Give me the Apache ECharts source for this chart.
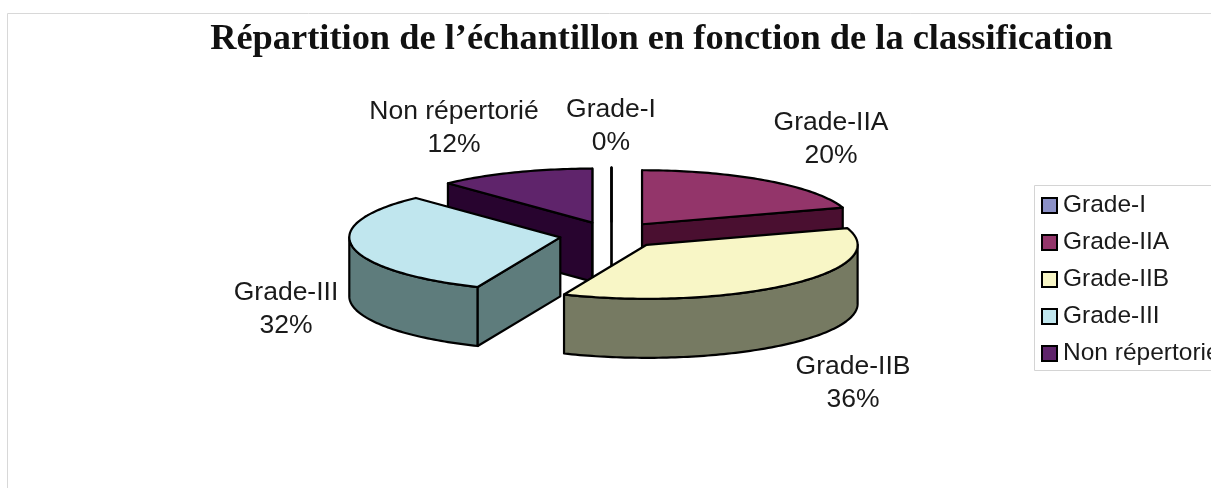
<!DOCTYPE html>
<html>
<head>
<meta charset="utf-8">
<style>html,body{margin:0;padding:0;background:#fff}#c{width:1211px;height:488px}</style>
<script src="https://cdn.jsdelivr.net/npm/echarts@6/dist/echarts.min.js"></script>
</head>
<body>
<div id="c"></div>
<script>
const categories = ['Grade-I', 'Grade-IIA', 'Grade-IIB', 'Grade-III', 'Non répertorié'];
const values = [0, 20, 36.4, 31.6, 12];
const topColors = ['#8b90c6', '#93356a', '#f8f6c6', '#c0e6ee', '#5f246b'];
const wallColors = ['#45486a', '#4a0f30', '#767a62', '#5e7c7c', '#28042f'];
const titleText = 'Répartition de l’échantillon en fonction de la classification';
const labelCenters = [[611, 126], [831, 139], [853, 383], [286, 309], [454, 128]];

const CX = 611.5, CY = 235, RX = 211, RY = 54, DEPTH = 59, EXPLODE = 52;
const FRONT_START = Math.PI / 2, FRONT_END = Math.PI * 3 / 2;
const total = values.reduce((a, b) => a + b, 0);

const slices = [];
let acc = 0;
values.forEach(v => {
  const a0 = acc / total * Math.PI * 2;
  acc += v;
  slices.push({ a0, a1: acc / total * Math.PI * 2 });
});

function apexOf(s) {
  const mid = (s.a0 + s.a1) / 2;
  return [CX + EXPLODE * Math.sin(mid), CY - EXPLODE * Math.cos(mid) * RY / RX];
}
function rim(apex, a, dy) {
  return [apex[0] + RX * Math.sin(a), apex[1] - RY * Math.cos(a) + (dy || 0)];
}
function arcPoints(apex, a0, a1, dy) {
  const n = Math.max(1, Math.ceil((a1 - a0) / 0.02));
  const pts = [];
  for (let i = 0; i <= n; i++) pts.push(rim(apex, a0 + (a1 - a0) * i / n, dy));
  return pts;
}
const stroke = { stroke: '#000', lineWidth: 2.2, lineJoin: 'round' };

function makeRender(idx) {
  return function (params, api) {
    const v = api.value(0);
    const s = slices[idx];
    const apex = apexOf(s);
    const children = [];
    const wall = Object.assign({ fill: wallColors[idx] }, stroke);
    const lo = Math.max(s.a0, FRONT_START), hi = Math.min(s.a1, FRONT_END);
    if (hi > lo) {
      const upper = arcPoints(apex, lo, hi, 0);
      const lower = arcPoints(apex, lo, hi, DEPTH).reverse();
      children.push({ type: 'polygon', shape: { points: upper.concat(lower) }, style: wall });
    }
    [[s.a0, -1], [s.a1, 1]].forEach(([a, sign]) => {
      if (sign * Math.sin(a) >= -1e-9) {
        const p = rim(apex, a, 0);
        children.push({ type: 'polygon', shape: { points: [apex, p, [p[0], p[1] + DEPTH], [apex[0], apex[1] + DEPTH]] }, style: wall });
      }
    });
    children.push({
      type: 'polygon',
      shape: { points: [apex].concat(arcPoints(apex, s.a0, s.a1, 0)) },
      style: Object.assign({ fill: topColors[idx] }, stroke)
    });
    children.push({
      type: 'text',
      style: {
        x: labelCenters[idx][0], y: labelCenters[idx][1],
        text: categories[idx] + '\n' + Math.round(v / total * 100) + '%',
        fill: '#1a1a1a', font: '26.5px "Liberation Sans", Arial, sans-serif',
        align: 'center', verticalAlign: 'middle', lineHeight: 33
      }
    });
    return { type: 'group', children };
  };
}

const chart = echarts.init(document.getElementById('c'), null, { renderer: 'canvas' });
chart.setOption({
  animation: false,
  backgroundColor: '#fff',
  title: {
    text: titleText, left: 656.5, top: 17, textAlign: 'center',
    textStyle: { fontFamily: '"Liberation Serif", serif', fontWeight: 'bold', fontSize: 36.4, color: '#111' }
  },
  legend: {
    orient: 'vertical', left: 1041, top: 193, padding: 0,
    data: categories, icon: 'rect', itemWidth: 15, itemHeight: 15, itemGap: 12,
    selectedMode: false,
    textStyle: { fontFamily: '"Liberation Sans", Arial, sans-serif', fontSize: 24.5, color: '#1a1a1a', lineHeight: 22, padding: [0, 0, 0, 1] }
  },
  graphic: [
    { type: 'polyline', silent: true, z: -1, shape: { points: [[1211, 13.5], [7.5, 13.5], [7.5, 488]] }, style: { stroke: '#d8d8d8', lineWidth: 1, fill: null } },
    { type: 'polyline', silent: true, z: -1, shape: { points: [[1211, 185.5], [1034.5, 185.5], [1034.5, 370.5], [1211, 370.5]] }, style: { stroke: '#d4d4d4', lineWidth: 1, fill: null } }
  ],
  series: categories.map((name, i) => ({
    type: 'custom',
    name,
    coordinateSystem: 'none',
    z: 10 + Math.round(-Math.cos((slices[i].a0 + slices[i].a1) / 2) * 5),
    itemStyle: { color: topColors[i], borderColor: '#000', borderWidth: 2 },
    renderItem: makeRender(i),
    data: [[values[i]]]
  }))
});
</script>
</body>
</html>
